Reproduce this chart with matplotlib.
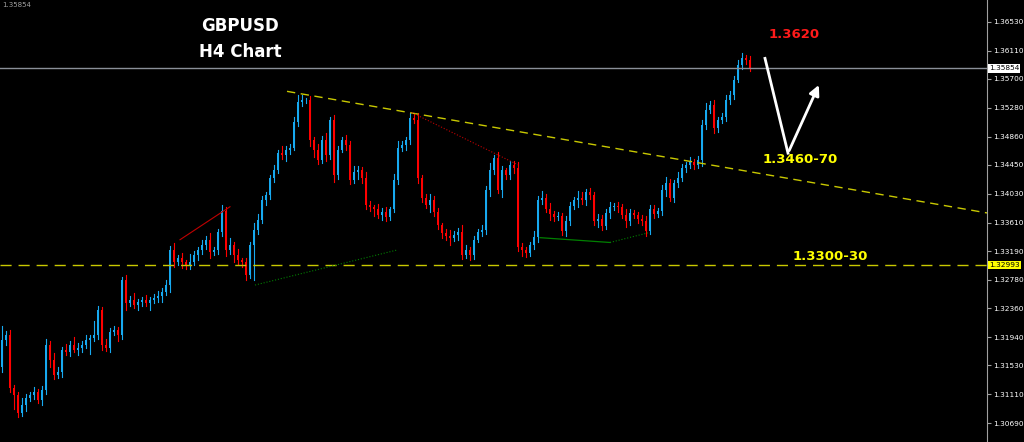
import numpy as np
import matplotlib; matplotlib.use("Agg")
import matplotlib.pyplot as plt

# GBPUSD H4 closes (one per candle)
closes = [1.3190,1.3197,1.3120,1.3110,1.3084,1.3095,1.3106,1.3110,1.3114,1.3103,
          1.3117,1.3183,1.3161,1.3139,1.3144,1.3176,1.3173,1.3183,1.3176,1.3179,
          1.3183,1.3190,1.3193,1.3197,1.3234,1.3183,1.3179,1.3202,1.3205,1.3197,
          1.3277,1.3244,1.3248,1.3241,1.3245,1.3248,1.3244,1.3248,1.3251,1.3254,
          1.3260,1.3270,1.3321,1.3303,1.3309,1.3303,1.3299,1.3303,1.3314,1.3321,
          1.3328,1.3336,1.3318,1.3321,1.3347,1.3378,1.3321,1.3328,1.3314,1.3306,
          1.3303,1.3285,1.3328,1.3350,1.3365,1.3394,1.3401,1.3426,1.3437,1.3462,
          1.3459,1.3467,1.3470,1.3507,1.3536,1.3539,1.3539,1.3481,1.3467,1.3452,
          1.3481,1.3459,1.3510,1.3430,1.3467,1.3481,1.3474,1.3423,1.3434,1.3437,
          1.3426,1.3387,1.3383,1.3380,1.3372,1.3377,1.3369,1.3380,1.3423,1.3470,
          1.3474,1.3481,1.3513,1.3510,1.3426,1.3397,1.3387,1.3394,1.3377,1.3357,
          1.3346,1.3342,1.3339,1.3343,1.3347,1.3314,1.3321,1.3314,1.3336,1.3347,
          1.3350,1.3408,1.3437,1.3455,1.3408,1.3437,1.3430,1.3445,1.3441,1.3325,
          1.3321,1.3317,1.3328,1.3340,1.3394,1.3397,1.3381,1.3374,1.3369,1.3370,
          1.3349,1.3363,1.3385,1.3394,1.3397,1.3394,1.3405,1.3401,1.3363,1.3366,
          1.3356,1.3375,1.3383,1.3385,1.3383,1.3372,1.3363,1.3375,1.3372,1.3366,
          1.3363,1.3349,1.3381,1.3374,1.3378,1.3408,1.3418,1.3397,1.3418,1.3426,
          1.3440,1.3445,1.3449,1.3445,1.3452,1.3503,1.3525,1.3532,1.3499,1.3510,
          1.3515,1.3539,1.3547,1.3569,1.3590,1.3601,1.3598,1.3586]
first_open = 1.3150
# wick extensions in pips beyond the body
up_wick = [20,6,8,5,4,10,6,5,8,4, 6,8,5,10,6,4,8,5,12,6, 6,8,5,20,6,4,8,5,6,4,
           4,8,6,10,5,4,8,5,6,7, 5,8,6,10,5,8,4,12,6,5, 8,6,10,5,4,8,6,10,5,8,
           4,6,5,10,8,6,5,4,8,5, 10,6,5,8,10,8,4,6,5,8, 6,10,5,8,6,4,8,5,10,6,
           5,8,6,4,8,5,6,4,8,10, 6,5,8,6,10,4,5,8,6,5, 4,6,8,5,6,10,8,4,6,5,
           8,6,10,5,8,6,4,5,6,8, 6,5,4,8,6,10,5,8,4,6, 5,8,6,4,10,8,5,6,4,8,
           6,5,8,4,6,5,8,6,4,5, 6,8,5,6,4,8,10,6,5,8, 6,4,8,5,6,8,10,6,8,5,
           6,8,5,6,8,7,4,6]
dn_wick = [6,8,5,20,6,4,8,5,6,4, 8,5,10,6,4,8,5,6,4,8, 6,5,20,4,6,8,5,6,4,8,
           6,10,5,4,8,6,5,10,4,6, 8,5,10,6,4,8,5,6,4,8, 6,5,8,4,6,5,8,6,10,5,
           6,8,5,50,6,4,8,5,6,4, 5,8,6,4,5,6,4,8,10,6, 5,8,6,10,5,4,8,6,5,10,
           8,6,5,10,4,8,6,5,4,6, 5,8,6,4,8,6,5,10,6,5, 8,6,10,5,8,6,5,8,6,4,
           6,5,8,6,4,10,6,5,8,6, 8,6,4,5,8,6,5,10,6,5, 6,8,5,4,10,6,8,5,6,8,
           6,5,8,4,6,5,8,6,4,5, 6,8,4,6,5,6,8,4,6,5, 4,6,5,6,4,8,6,5,8,6,
           4,6,5,6,4,5,6,5]

yticks = [1.36530,1.36110,1.35700,1.35280,1.34860,1.34450,1.34030,1.33610,
          1.33190,1.32780,1.32360,1.31940,1.31530,1.31110,1.30690]
last_price = 1.35854
support_price = 1.32993
# drawn lines (candle index, price)
trend_yellow = [(71.25, 1.3552), (246.25, 1.3375)]
red_solid = [(44.5, 1.3336), (57.0, 1.3384)]
red_dot = [(102.5, 1.3521), (129.0, 1.3445)]
green_dot1 = [(63.25, 1.3270), (98.75, 1.3321)]
green_solid = [(134.5, 1.3339), (152.0, 1.3332)]
green_dot2 = [(152.0, 1.3332), (161.5, 1.3346)]
arrow_path = [(190.75, 1.3600), (196.5, 1.3462), (204.5, 1.3565)]

UP, DN = "#17a9f0", "#ff0000"
fig = plt.figure(figsize=(10.24, 4.42), dpi=100, facecolor="black")
ax = fig.add_axes([0, 0, 987/1024, 1])
ax.set_facecolor("black")
opens = [first_open] + closes[:-1]
for i, (o, c) in enumerate(zip(opens, closes)):
    col = UP if c >= o else DN
    hi = max(o, c) + up_wick[i]*1e-4
    lo = min(o, c) - dn_wick[i]*1e-4
    ax.plot([i, i], [lo, hi], color=col, lw=0.8)
    ax.bar(i, max(abs(c-o), 0.00005), bottom=min(o, c), width=0.7, color=col, lw=0)

ax.set_xlim(-0.5, 246.25)
ax.set_ylim(1.30415, 1.36850)
ax.axhline(last_price, color="#8a8f98", lw=1)
ax.axhline(support_price, color="#c8c800", lw=1, dashes=(8, 5))
def seg(pts, **kw):
    ax.plot([p[0] for p in pts], [p[1] for p in pts], **kw)
seg(trend_yellow, color="#c8c800", lw=1, dashes=(6, 4))
seg(red_solid, color="#c00000", lw=0.8)
seg(red_dot, color="#c00000", lw=0.8, ls=":")
seg(green_dot1, color="#008000", lw=0.8, ls=":")
seg(green_solid, color="#008000", lw=0.9)
seg(green_dot2, color="#008000", lw=0.8, ls=":")
seg(arrow_path[:2], color="white", lw=2)
ax.annotate("", xy=arrow_path[2], xytext=arrow_path[1],
            arrowprops=dict(arrowstyle="-|>", color="white", lw=2, mutation_scale=15))

ax.text(59.5, 1.3653-4*1.456e-4, "GBPUSD", color="white", fontsize=12, fontweight="bold", ha="center", va="center")
ax.text(59.5, 1.3653-30*1.456e-4, "H4 Chart", color="white", fontsize=12, fontweight="bold", ha="center", va="center")
ax.text(198, 1.3653-13*1.456e-4, "1.3620", color="#ff1a1a", fontsize=9.5, fontweight="bold", ha="center", va="center")
ax.text(199.5, 1.3653-138*1.456e-4, "1.3460-70", color="#ffff00", fontsize=9.5, fontweight="bold", ha="center", va="center")
ax.text(207, 1.3653-235*1.456e-4, "1.3300-30", color="#ffff00", fontsize=9.5, fontweight="bold", ha="center", va="center")
ax.text(0, 1.3677, "1.35854", color="#a0a0a0", fontsize=5, va="center")

ax.yaxis.tick_right()
ax.set_yticks(yticks)
ax.set_yticklabels([f"{t:.5f}" for t in yticks], fontsize=5.3, color="white")
ax.tick_params(axis="y", colors="#a0a0a0", length=3, pad=1.5, labelcolor="white")
ax.set_xticks([])
for s in ["left", "top", "bottom"]:
    ax.spines[s].set_visible(False)
ax.spines["right"].set_color("#a0a0a0")
ax.text(1.002, last_price, "1.35854", transform=ax.get_yaxis_transform(), fontsize=5.3,
        color="black", va="center", bbox=dict(fc="white", ec="none", pad=0.8))
ax.text(1.002, support_price, "1.32993", transform=ax.get_yaxis_transform(), fontsize=5.3,
        color="black", va="center", bbox=dict(fc="#ffff00", ec="none", pad=0.8))
fig.savefig("out.png", dpi=100, facecolor="black")
